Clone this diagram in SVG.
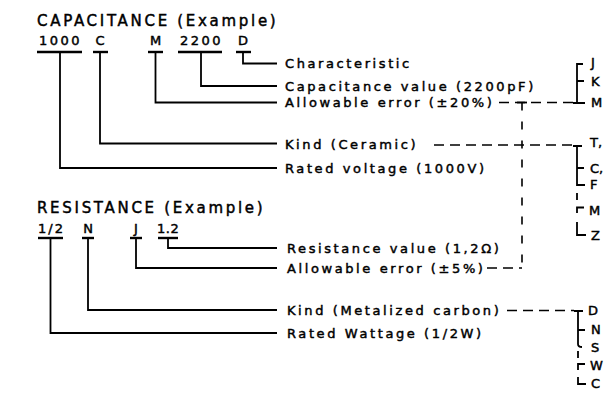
<svg xmlns="http://www.w3.org/2000/svg" width="607" height="393" viewBox="0 0 607 393">
<style>
  text { font-family: "DejaVu Sans", "Liberation Sans", sans-serif; fill: #000; stroke: #000; stroke-width: 0.45px; }
  .title { font-size: 15px; letter-spacing: 2.7px; }
  .code { font-size: 13px; }
  .lbl { font-size: 13px; letter-spacing: 2.6px; }
  .opt { font-size: 13px; }
  .ul { stroke: #000; stroke-width: 2.4; fill: none; }
  .ln { fill: none; stroke: #000; stroke-width: 1.8; }
  .dh { fill: none; stroke: #000; stroke-width: 1.6; stroke-dasharray: 10 6; }
  .dv { fill: none; stroke: #000; stroke-width: 1.6; stroke-dasharray: 8 11; }
  .br { fill: none; stroke: #000; stroke-width: 1.8; }
</style>
<rect width="607" height="393" fill="#fff"/>

<!-- CAPACITANCE section -->
<g id="cap-title"><text class="title" x="37" y="26">CAPACITANCE (Example)</text></g>
<g id="cap-1000"><text class="code" x="39" y="45" letter-spacing="2.5">1000</text><path class="ul" d="M37 52H82"/></g>
<g id="cap-C"><text class="code" x="100" y="45" text-anchor="middle">C</text><path class="ul" d="M93 52H108"/></g>
<g id="cap-M"><text class="code" x="155.5" y="45" text-anchor="middle">M</text><path class="ul" d="M148 52H163"/></g>
<g id="cap-2200"><text class="code" x="180" y="45" letter-spacing="2.5">2200</text><path class="ul" d="M178 52H222"/></g>
<g id="cap-D"><text class="code" x="243" y="45" text-anchor="middle">D</text><path class="ul" d="M236 52H251"/></g>

<g id="lbl-characteristic"><text class="lbl" x="285" y="68">Characteristic</text></g>
<g id="lbl-capvalue"><text class="lbl" x="285" y="90.5">Capacitance value (2200pF)</text></g>
<g id="lbl-caperror"><text class="lbl" x="285" y="107">Allowable error (±20%)</text></g>
<g id="lbl-capkind"><text class="lbl" x="285" y="148.5">Kind (Ceramic)</text></g>
<g id="lbl-capvolt"><text class="lbl" x="285" y="173">Rated voltage (1000V)</text></g>

<g id="opt-err">
  <text class="opt" x="591" y="67">J</text>
  <text class="opt" x="591" y="86">K</text>
  <text class="opt" x="591" y="107">M</text>
</g>
<g id="opt-capkind">
  <text class="opt" x="590" y="147">T,</text>
  <text class="opt" x="590" y="173">C,</text>
  <text class="opt" x="590" y="189">F</text>
  <text class="opt" x="589" y="215">M</text>
  <text class="opt" x="591" y="240">Z</text>
</g>

<!-- RESISTANCE section -->
<g id="res-title"><text class="title" x="37" y="213">RESISTANCE (Example)</text></g>
<g id="res-12"><text class="code" x="38" y="233" letter-spacing="2">1/2</text><path class="ul" d="M38 238H63"/></g>
<g id="res-N"><text class="code" x="88" y="233" text-anchor="middle">N</text><path class="ul" d="M82 238H94"/></g>
<g id="res-J"><text class="code" x="136" y="233" text-anchor="middle">J</text><path class="ul" d="M130 238H142"/></g>
<g id="res-1p2"><text class="code" x="157" y="233" letter-spacing="0.5">1.2</text><path class="ul" d="M158 238H178"/></g>

<g id="lbl-resvalue"><text class="lbl" x="287" y="252.5">Resistance value (1,2Ω)</text></g>
<g id="lbl-reserror"><text class="lbl" x="287" y="272.5">Allowable error (±5%)</text></g>
<g id="lbl-reskind"><text class="lbl" x="287" y="314.5">Kind (Metalized carbon)</text></g>
<g id="lbl-reswatt"><text class="lbl" x="287" y="337.5">Rated Wattage (1/2W)</text></g>

<g id="opt-reskind">
  <text class="opt" x="588" y="315">D</text>
  <text class="opt" x="591" y="334">N</text>
  <text class="opt" x="591" y="352">S</text>
  <text class="opt" x="590" y="370">W</text>
  <text class="opt" x="591" y="388">C</text>
</g>

<!-- connectors -->
<g id="connectors">
  <path class="ln" d="M60 52V168H277"/>
  <path class="ln" d="M100 52V143.5H277"/>
  <path class="ln" d="M155.5 52V102.5H277"/>
  <path class="ln" d="M201 52V86H277"/>
  <path class="ln" d="M243 52V63.5H277"/>

  <path class="ln" d="M50.5 238V333H277"/>
  <path class="ln" d="M88 238V310H277"/>
  <path class="ln" d="M136 238V268H277"/>
  <path class="ln" d="M168 238V248H277"/>

  <path class="dh" d="M499 102.5H574"/>
  <path class="ln" d="M517 102.5H527"/>
  <path class="dv" d="M522 102.5V268"/>
  <path class="dh" d="M487 268H522"/>
  <path class="dh" d="M434 145H573"/>
  <path class="dh" d="M507 310.5H574"/>

  <path class="br" d="M583 64H577V103M577 81H584M573 103H585"/>
  <path class="br" d="M573 146H582M577 146V185H585M577 168H584M577 193V200M584 207.5H577V213M577 222V235H586"/>
  <path class="br" d="M574 311H583M578 311V344Q578 347 582 347M578 330H585M578 351V358M585 364H578V370M578 377V384H586"/>
</g>
</svg>
